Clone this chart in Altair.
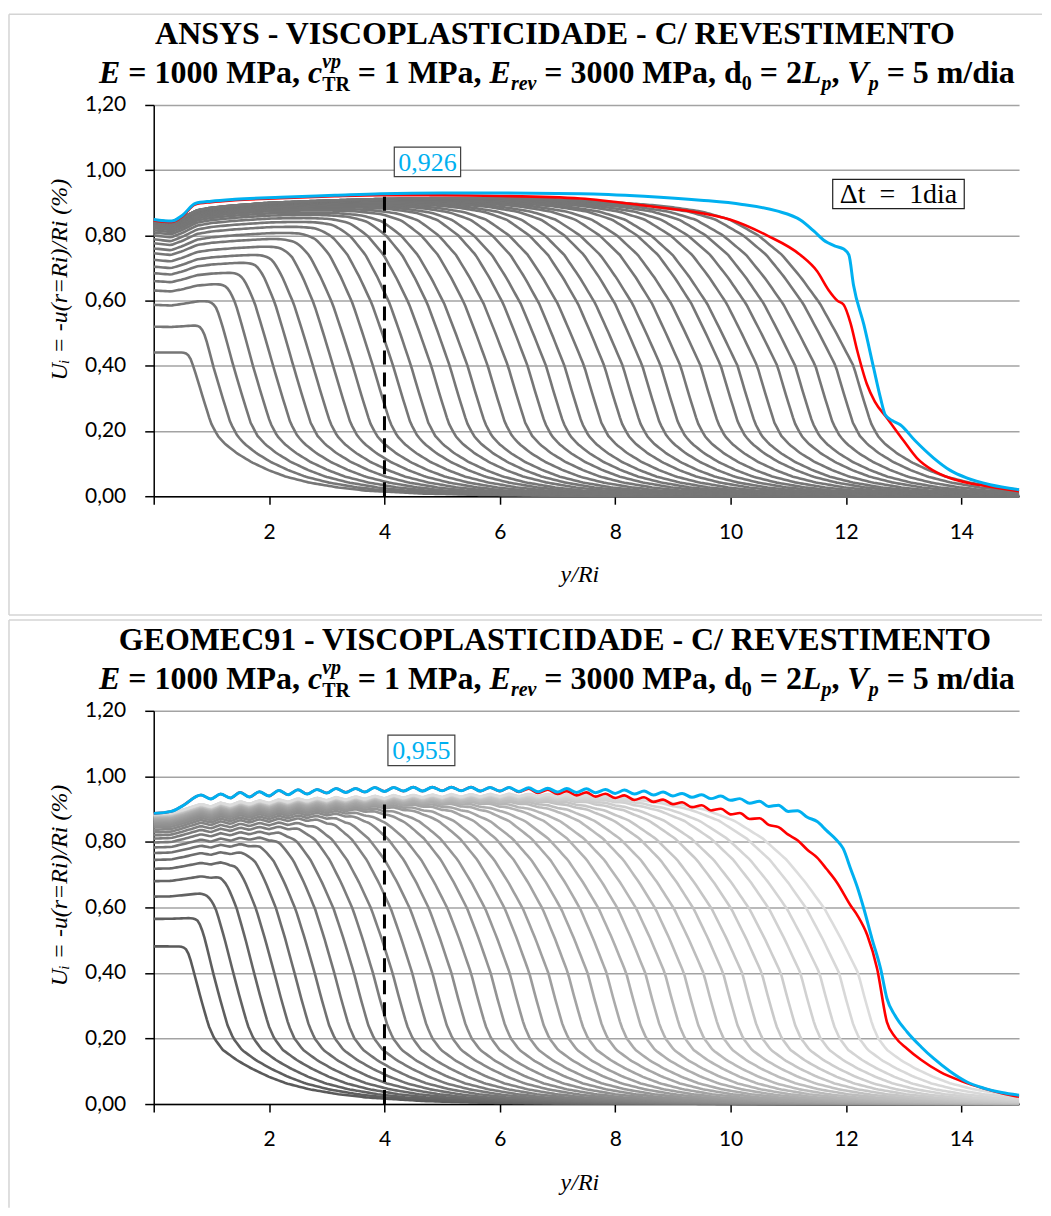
import numpy as np
import pandas as pd
import altair as alt

# ------------------------------------------------------------------
# Data
# ------------------------------------------------------------------
X_TICKS = [0, 2, 4, 6, 8, 10, 12, 14]
Y_TICKS = [0.0, 0.2, 0.4, 0.6, 0.8, 1.0, 1.2]

# ---- ANSYS panel: gray time-step curves ----
ansys_fronts = [0.69, 1.03, 1.38, 1.72, 2.07, 2.42, 2.76, 3.11, 3.45, 3.80,
                4.15, 4.46, 4.81, 5.13, 5.44, 5.79, 6.14, 6.48, 6.80, 7.12,
                7.46, 7.81, 8.13, 8.47, 8.79, 9.13, 9.48, 9.83, 10.12, 10.46,
                10.81, 11.12, 11.47, 11.82, 12.13]
ansys_starts = [0.441, 0.520, 0.587, 0.631, 0.660, 0.684, 0.704, 0.725, 0.745, 0.760,
                0.776, 0.788, 0.800, 0.809, 0.816, 0.822, 0.827, 0.831, 0.834, 0.836,
                0.838, 0.840, 0.841, 0.842, 0.843, 0.844, 0.844, 0.845, 0.845, 0.846,
                0.846, 0.846, 0.847, 0.847, 0.847]
bump_scale = [0.0, 0.15, 0.35, 0.5, 0.6, 0.7, 0.75, 0.8, 0.85, 0.9,
              0.95, 1.0, 1.0, 1.0, 1.0, 1.0, 1.0, 1.0, 1.0, 1.0,
              1.0, 1.0, 1.0, 1.0, 1.0, 1.0, 1.0, 1.0, 1.0, 1.0,
              1.0, 1.0, 1.0, 1.0, 1.0]
shoulder_width = [0.8, 0.8, 0.85, 0.85, 0.9, 0.9, 0.95, 0.95, 1.0, 1.0,
                  1.05, 1.05, 1.1, 1.1, 1.15, 1.15, 1.2, 1.2, 1.25, 1.25,
                  1.3, 1.3, 1.35, 1.35, 1.4, 1.4, 1.45, 1.45, 1.5, 1.5,
                  1.55, 1.55, 1.6, 1.6, 1.65]
ansys_rise_x = [0, 0.3, 0.5, 0.75, 1.0, 1.4, 2.0, 3.0, 4.0, 5.0, 6.0, 8.0, 15.0]
ansys_rise_y = [0, -0.006, 0.008, 0.030, 0.038, 0.045, 0.053, 0.060, 0.065, 0.068, 0.070, 0.070, 0.070]
ansys_drop_dx = [-6.0, -4.0, -3.0, -2.5, -2.0, -1.6, -1.3, -1.0, -0.75, -0.55,
                 -0.35, -0.18, 0.0, 0.15, 0.3, 0.42, 0.55, 0.75, 1.0, 1.3,
                 1.6, 2.0, 2.5, 3.0, 4.0, 5.0, 7.0, 12.0]
ansys_drop_y = [1.20, 0.99, 0.94, 0.92, 0.90, 0.878, 0.85, 0.80, 0.74, 0.67,
                0.59, 0.50, 0.40, 0.31, 0.225, 0.185, 0.16, 0.132, 0.105, 0.08,
                0.06, 0.042, 0.027, 0.017, 0.008, 0.004, 0.001, 0.0]
ansys_blue_x = [0, 0.31, 0.5, 0.72, 1.0, 1.41, 2.2, 3.14, 3.94, 5.0,
                6.0, 7.4, 8.5, 9.48, 10.2, 10.8, 11.21, 11.45, 11.61, 11.8,
                11.96, 12.05, 12.13, 12.31, 12.48, 12.6, 12.68, 12.8, 12.94, 13.2,
                13.52, 13.8, 14.09, 14.5, 15.0]
ansys_blue_y = [0.849, 0.844, 0.862, 0.898, 0.905, 0.911, 0.917, 0.923, 0.928, 0.930,
                0.930, 0.928, 0.920, 0.908, 0.895, 0.875, 0.847, 0.812, 0.786, 0.768,
                0.758, 0.740, 0.648, 0.526, 0.393, 0.300, 0.250, 0.232, 0.219, 0.170,
                0.117, 0.080, 0.056, 0.035, 0.020]
ansys_red_x = [0, 0.31, 0.5, 0.72, 1.0, 1.41, 2.2, 3.14, 3.94, 5.0,
               6.0, 7.4, 8.56, 9.5, 10.0, 10.63, 11.21, 11.5, 11.7, 11.85,
               11.96, 12.08, 12.19, 12.36, 12.5, 12.71, 13.0, 13.23, 13.5, 13.8,
               14.2, 14.6, 15.0]
ansys_red_y = [0.846, 0.841, 0.859, 0.895, 0.902, 0.908, 0.914, 0.920, 0.923, 0.923,
               0.921, 0.913, 0.890, 0.868, 0.848, 0.800, 0.740, 0.690, 0.632, 0.600,
               0.587, 0.530, 0.450, 0.345, 0.290, 0.240, 0.170, 0.117, 0.080, 0.056,
               0.038, 0.026, 0.015]

# ---- GEOMEC91 panel ----
geomec_fronts = [0.70, 1.03, 1.38, 1.74, 2.09, 2.44, 2.79, 3.13, 3.47, 3.80,
                 4.14, 4.48, 4.83, 5.16, 5.50, 5.84, 6.17, 6.51, 6.84, 7.18,
                 7.52, 7.85, 8.19, 8.52, 8.86, 9.19, 9.53, 9.87, 10.20, 10.54,
                 10.87, 11.21, 11.54, 11.88, 12.21]
geomec_starts = [0.481, 0.565, 0.633, 0.680, 0.718, 0.745, 0.766, 0.783, 0.798, 0.810,
                 0.820, 0.829, 0.837, 0.844, 0.850, 0.855, 0.859, 0.863, 0.866, 0.869,
                 0.871, 0.873, 0.875, 0.877, 0.878, 0.879, 0.880, 0.881, 0.882, 0.883,
                 0.884, 0.884, 0.885, 0.885, 0.886]
geomec_rise_x = [0, 0.3, 0.5, 0.82, 0.99, 1.16, 1.33, 1.5, 1.66, 1.83, 2.0,
                 2.17, 2.33, 2.5, 2.66, 2.83, 3.0, 3.16, 3.33, 3.5, 3.66, 3.83, 4.0,
                 4.16, 4.33, 4.5, 4.66, 4.83, 5.0, 5.16, 5.33, 5.5, 5.66, 5.83, 6.0,
                 6.16, 6.33, 6.5, 6.66, 6.83, 7.0, 7.16, 7.33, 7.5, 7.66, 7.83, 8.0,
                 8.16, 8.33, 8.5, 8.66, 8.83, 9.0, 9.16, 9.33, 9.5, 9.66, 9.83, 10.0,
                 10.16, 10.33, 10.5, 10.66, 10.83, 11.0, 11.16, 11.33, 11.5, 11.66, 11.83, 12.0,
                 15.0]
geomec_rise_y = [0, 0.002, 0.012, 0.030, 0.022, 0.034, 0.026, 0.038, 0.030, 0.041, 0.033,
                 0.044, 0.036, 0.047, 0.039, 0.049, 0.041, 0.051, 0.043, 0.053, 0.045, 0.055, 0.047,
                 0.057, 0.049, 0.058, 0.050, 0.059, 0.051, 0.060, 0.052, 0.061, 0.053, 0.062, 0.054,
                 0.063, 0.055, 0.064, 0.056, 0.065, 0.057, 0.066, 0.058, 0.067, 0.059, 0.068, 0.060,
                 0.069, 0.061, 0.070, 0.062, 0.071, 0.063, 0.072, 0.064, 0.073, 0.065, 0.074, 0.066,
                 0.075, 0.067, 0.076, 0.068, 0.077, 0.069, 0.078, 0.070, 0.078, 0.070, 0.078, 0.070,
                 0.070]
geomec_drop_dx = [-6.0, -4.0, -3.0, -2.5, -2.0, -1.6, -1.3, -1.0, -0.75, -0.55,
                  -0.35, -0.18, 0.0, 0.12, 0.25, 0.35, 0.5, 0.75, 1.0, 1.3,
                  1.6, 2.0, 2.5, 3.0, 4.0, 5.0, 7.0, 12.0]
geomec_drop_y = [1.25, 1.03, 0.98, 0.955, 0.93, 0.90, 0.865, 0.81, 0.745, 0.675,
                 0.595, 0.505, 0.40, 0.32, 0.24, 0.20, 0.165, 0.133, 0.108, 0.083,
                 0.063, 0.045, 0.030, 0.020, 0.009, 0.004, 0.001, 0.0]
geomec_blue_x = [0, 0.3, 0.5, 0.82, 0.99, 1.16, 1.33, 1.5, 1.66, 1.83, 2.0,
                 2.17, 2.33, 2.5, 2.66, 2.83, 3.0, 3.16, 3.33, 3.5, 3.66, 3.83, 4.0,
                 4.16, 4.33, 4.5, 4.66, 4.83, 5.0, 5.16, 5.33, 5.5, 5.66, 5.83, 6.0,
                 6.16, 6.33, 6.5, 6.66, 6.83, 7.0, 7.16, 7.33, 7.5, 7.66, 7.83, 8.0,
                 8.16, 8.33, 8.5, 8.66, 8.83, 9.0, 9.16, 9.33, 9.5, 9.66, 9.83, 10.0,
                 10.16, 10.33, 10.5, 10.66, 10.83, 11.0, 11.16, 11.33, 11.5, 11.66,
                 11.84, 11.95, 12.08, 12.2, 12.31, 12.45, 12.6, 12.71, 12.85, 13.06,
                 13.3, 13.52, 13.8, 14.09, 14.4, 14.7, 15.0]
geomec_blue_y = [0.887, 0.893, 0.910, 0.943, 0.931, 0.946, 0.934, 0.951, 0.937, 0.953, 0.940,
                 0.957, 0.944, 0.959, 0.946, 0.960, 0.949, 0.963, 0.951, 0.963, 0.952, 0.966, 0.954,
                 0.966, 0.955, 0.967, 0.955, 0.967, 0.956, 0.967, 0.956, 0.967, 0.955, 0.966, 0.955,
                 0.966, 0.954, 0.965, 0.953, 0.964, 0.952, 0.963, 0.951, 0.962, 0.950, 0.960, 0.948,
                 0.958, 0.946, 0.955, 0.943, 0.952, 0.940, 0.948, 0.936, 0.944, 0.932, 0.940, 0.927,
                 0.932, 0.918, 0.924, 0.908, 0.912, 0.893, 0.895, 0.875, 0.862, 0.835,
                 0.805, 0.780, 0.718, 0.660, 0.596, 0.505, 0.413, 0.322, 0.270, 0.220,
                 0.175, 0.139, 0.100, 0.068, 0.048, 0.035, 0.027]
geomec_red_x = [0, 0.3, 0.5, 0.82, 0.99, 1.16, 1.33, 1.5, 1.66, 1.83, 2.0,
                2.17, 2.33, 2.5, 2.66, 2.83, 3.0, 3.16, 3.33, 3.5, 3.66, 3.83, 4.0,
                4.16, 4.33, 4.5, 4.66, 4.83, 5.0, 5.16, 5.33, 5.5, 5.66, 5.83, 6.0,
                6.16, 6.33, 6.5, 6.66, 6.83, 7.0, 7.16, 7.33, 7.5, 7.66, 7.83, 8.0,
                8.16, 8.33, 8.5, 8.66, 8.83, 9.0, 9.16, 9.33, 9.5, 9.66, 9.83, 10.0,
                10.16, 10.33, 10.5, 10.66, 10.83, 11.0, 11.16, 11.33, 11.5, 11.66,
                11.84, 12.08, 12.2, 12.37, 12.54, 12.71, 12.85, 13.06, 13.3, 13.63,
                14.0, 14.38, 14.7, 15.0]
geomec_red_y = [0.887, 0.893, 0.910, 0.943, 0.931, 0.946, 0.934, 0.951, 0.937, 0.953, 0.940,
                0.957, 0.944, 0.959, 0.946, 0.960, 0.949, 0.963, 0.951, 0.963, 0.952, 0.966, 0.954,
                0.966, 0.955, 0.967, 0.955, 0.967, 0.956, 0.967, 0.956, 0.967, 0.955, 0.966, 0.955,
                0.966, 0.952, 0.962, 0.949, 0.959, 0.946, 0.955, 0.942, 0.951, 0.938, 0.947, 0.934,
                0.942, 0.928, 0.936, 0.922, 0.929, 0.915, 0.921, 0.906, 0.912, 0.896, 0.901, 0.884,
                0.888, 0.870, 0.872, 0.852, 0.845, 0.822, 0.805, 0.776, 0.752, 0.718,
                0.677, 0.606, 0.575, 0.515, 0.413, 0.250, 0.205, 0.169, 0.135, 0.098,
                0.070, 0.048, 0.033, 0.022]

# annotations
dash_x = [4.0]
ansys_dash_top = [0.932]
geomec_dash_top = [0.937]
ansys_label = ["0,926"]
geomec_label = ["0,955"]
ansys_label_box = [4.17, 5.32, 0.980, 1.071]
geomec_label_box = [4.06, 5.22, 1.033, 1.126]
dt_text = ["\u0394t\u2002=\u20021dia"]
dt_box = [11.77, 14.05, 0.882, 0.972]

# ------------------------------------------------------------------
XS = np.linspace(0.0, 15.0, 376)
TAU = 0.025


def gray_frame(fronts, starts, rise_x, rise_y, drop_dx, drop_y):
    rows = []
    for k, (f, s, b, w) in enumerate(zip(fronts, starts, bump_scale, shoulder_width)):
        env = s + b * np.interp(XS, rise_x, rise_y)
        dx = XS - f
        dxs = np.where(dx < 0, dx / w, dx)
        drop = np.interp(dxs, drop_dx, drop_y)
        y = -TAU * np.logaddexp(-env / TAU, -drop / TAU)
        y = np.clip(y, 0, None)
        rows.append(pd.DataFrame({"x": XS, "y": y, "curve": f"c{k:02d}"}))
    return pd.concat(rows, ignore_index=True)


SERIF = "Liberation Serif"
TICKFONT = "Lato"

AX = alt.Axis(values=X_TICKS, grid=False, tickSize=8, tickWidth=1.5, tickColor="black",
              domainColor="black", domainWidth=1.5, labelFont=TICKFONT, labelFontSize=21,
              labelColor="black", labelPadding=17, labelFlush=False,
              labelExpr="datum.value == 0 ? '' : datum.label", title=None)
AY = alt.Axis(values=Y_TICKS, grid=True, gridColor="#a3a3a3", gridWidth=1.5, tickSize=9,
              tickWidth=1.5, tickColor="black", domainColor="black", domainWidth=1.5,
              labelFont=TICKFONT, labelFontSize=21, labelColor="black", labelPadding=19,
              labelExpr="replace(format(datum.value, '.2f'), '.', ',')", title=None)
XSC = alt.Scale(domain=[0, 15], nice=False, zero=False)
YSC = alt.Scale(domain=[0, 1.2], nice=False, zero=False)


def X(field="x"):
    return alt.X(f"{field}:Q", scale=XSC, axis=AX, title=None)


def Y(field="y"):
    return alt.Y(f"{field}:Q", scale=YSC, axis=AY, title=None)


DUMMY = pd.DataFrame({"d": [0]})

# bold / bold italic Times advance widths (1/1000 em)
W_B = {" ": 250, "=": 570, "0": 500, "1": 500, "2": 500, "3": 500, "5": 500, "M": 944,
       "P": 611, "a": 500, ",": 250, "T": 667, "R": 722, "d": 556, "m": 833, "/": 278,
       "i": 278}
W_BI = {"E": 667, "c": 444, "v": 444, "p": 500, "r": 389, "e": 444, "L": 611, "V": 667}


def tw(s, italic, size):
    t = W_BI if italic else W_B
    return sum(t.get(ch, W_B.get(ch, 500)) for ch in s) * size / 1000.0


def subtitle_layers(cx, ybase):
    FS, SS = 32, 20
    segs = [("E", True, FS, 0, True), (" = 1000 MPa, ", False, FS, 0, True),
            ("c", True, FS, 0, True), ("vp", True, SS, -15, False), ("TR", False, SS, 8, True),
            (" = 1 MPa, ", False, FS, 0, True), ("E", True, FS, 0, True),
            ("rev", True, SS, 7, True), (" = 3000 MPa, d", False, FS, 0, True),
            ("0", False, SS, 7, True), (" = 2", False, FS, 0, True), ("L", True, FS, 0, True),
            ("p", True, SS, 7, True), (", ", False, FS, 0, True), ("V", True, FS, 0, True),
            ("p", True, SS, 7, True), (" = 5 m/dia", False, FS, 0, True)]
    total = sum(tw(s, it, sz) for s, it, sz, dy, adv in segs if adv)
    x = cx - total / 2.0
    layers = []
    for s, it, sz, dy, adv in segs:
        lead = len(s) - len(s.lstrip())
        xd = x + tw(s[:lead], it, sz)
        layers.append(
            alt.Chart(DUMMY).mark_text(
                text=s.strip(), font=SERIF, fontSize=sz, fontWeight="bold",
                fontStyle="italic" if it else "normal", align="left",
                baseline="alphabetic", color="black")
            .encode(x=alt.value(xd), y=alt.value(ybase + dy)))
        if adv:
            x += tw(s, it, sz)
    return layers


def frame_layers(bottom):
    col = "#d4d4d4"
    left = alt.Chart(DUMMY).mark_rule(color=col, strokeWidth=1.5).encode(
        x=alt.value(-145), y=alt.value(-91), y2=alt.value(bottom))
    top = alt.Chart(DUMMY).mark_rule(color=col, strokeWidth=1.5).encode(
        x=alt.value(-145), x2=alt.value(890), y=alt.value(-91))
    return [left, top]


def panel(title1, gray_df, gray_color, red_x, red_y, blue_x, blue_y, dash_top,
          label, label_box, height, frame_bottom, bottom_edge, dt=False):
    layers = []
    layers += frame_layers(frame_bottom)
    if bottom_edge:
        layers.append(alt.Chart(DUMMY).mark_rule(color="#d4d4d4", strokeWidth=1.5).encode(
            x=alt.value(-145), x2=alt.value(890), y=alt.value(frame_bottom)))
    if isinstance(gray_color, str):
        gl = alt.Chart(gray_df).mark_line(color=gray_color, strokeWidth=2.6).encode(
            x=X(), y=Y(), detail="curve:N")
    else:
        ids = sorted(gray_df["curve"].unique())
        gl = alt.Chart(gray_df).mark_line(strokeWidth=2.6).encode(
            x=X(), y=Y(),
            color=alt.Color("curve:N", scale=alt.Scale(domain=ids, range=gray_color), legend=None))
    layers.append(gl)
    red_df = pd.DataFrame({"x": red_x, "y": red_y})
    blue_df = pd.DataFrame({"x": blue_x, "y": blue_y})
    layers.append(alt.Chart(red_df).mark_line(color="#ff0000", strokeWidth=2.6,
                                              interpolate="monotone").encode(x=X(), y=Y()))
    layers.append(alt.Chart(blue_df).mark_line(color="#00b0f0", strokeWidth=3,
                                               interpolate="monotone").encode(x=X(), y=Y()))
    dash_df = pd.DataFrame({"x": dash_x, "y": [0.0], "y2": dash_top})
    layers.append(alt.Chart(dash_df).mark_rule(color="black", strokeWidth=3,
                                               strokeDash=[14, 8]).encode(
        x=X(), y=Y(), y2="y2:Q"))
    box_df = pd.DataFrame({"x": [label_box[0]], "x2": [label_box[1]],
                           "y": [label_box[2]], "y2": [label_box[3]],
                           "tx": [(label_box[0] + label_box[1]) / 2],
                           "ty": [(label_box[2] + label_box[3]) / 2], "t": label})
    layers.append(alt.Chart(box_df).mark_rect(fill="white", stroke="#404040", strokeWidth=1.2)
                  .encode(x=X(), x2="x2:Q", y=Y(), y2="y2:Q"))
    layers.append(alt.Chart(box_df).mark_text(font=SERIF, fontSize=26, color="#00b0f0",
                                              baseline="middle", align="center", dy=1)
                  .encode(x=X("tx"), y=Y("ty"), text="t:N"))
    if dt:
        dt_df = pd.DataFrame({"x": [dt_box[0]], "x2": [dt_box[1]], "y": [dt_box[2]],
                              "y2": [dt_box[3]], "tx": [(dt_box[0] + dt_box[1]) / 2],
                              "ty": [(dt_box[2] + dt_box[3]) / 2], "t": dt_text})
        layers.append(alt.Chart(dt_df).mark_rect(fill="white", stroke="#202020", strokeWidth=1.2)
                      .encode(x=X(), x2="x2:Q", y=Y(), y2="y2:Q"))
        layers.append(alt.Chart(dt_df).mark_text(font=SERIF, fontSize=28, color="black",
                                                 baseline="middle", align="center", dy=1)
                      .encode(x=X("tx"), y=Y("ty"), text="t:N"))
    # titles
    layers.append(alt.Chart(DUMMY).mark_text(text=title1, font=SERIF, fontSize=32,
                                             fontWeight="bold", align="center",
                                             baseline="alphabetic", color="black")
                  .encode(x=alt.value(402), y=alt.value(-61)))
    layers += subtitle_layers(404, -22)
    # axis titles
    layers.append(alt.Chart(DUMMY).mark_text(text="U\u1d62 = -u(r=Ri)/Ri (%)", font=SERIF,
                                             fontSize=24, fontStyle="italic", angle=270,
                                             align="center", baseline="middle", color="black")
                  .encode(x=alt.value(-94), y=alt.value(175)))
    layers.append(alt.Chart(DUMMY).mark_text(text="y/Ri", font=SERIF, fontSize=24,
                                             fontStyle="italic", align="center",
                                             baseline="middle", color="black")
                  .encode(x=alt.value(427), y=alt.value(height + 79)))
    return alt.layer(*layers).properties(width=867, height=height)


ansys_gray = gray_frame(ansys_fronts, ansys_starts, ansys_rise_x, ansys_rise_y,
                        ansys_drop_dx, ansys_drop_y)
geomec_gray = gray_frame(geomec_fronts, geomec_starts, geomec_rise_x, geomec_rise_y,
                         geomec_drop_dx, geomec_drop_y)

n = len(geomec_fronts)
gradient = []
for k in range(n):
    v = int(round(0x5a + (0xdc - 0x5a) * k / (n - 1)))
    gradient.append(f"#{v:02x}{v:02x}{v:02x}")

top = panel("ANSYS - VISCOPLASTICIDADE - C/ REVESTIMENTO", ansys_gray, "#767676",
            ansys_red_x, ansys_red_y, ansys_blue_x, ansys_blue_y, ansys_dash_top,
            ansys_label, ansys_label_box, 392, 511, True, dt=True)
bottom = panel("GEOMEC91 - VISCOPLASTICIDADE - C/ REVESTIMENTO", geomec_gray, gradient,
               geomec_red_x, geomec_red_y, geomec_blue_x, geomec_blue_y, geomec_dash_top,
               geomec_label, geomec_label_box, 394, 498, False)

chart = alt.vconcat(top, bottom, spacing=3).configure(
    padding={"left": 0, "top": 4, "right": 0, "bottom": 0},
    background="white",
).configure_view(stroke=None)

chart.save("out.html", embed_options={"renderer": "svg", "actions": False})
